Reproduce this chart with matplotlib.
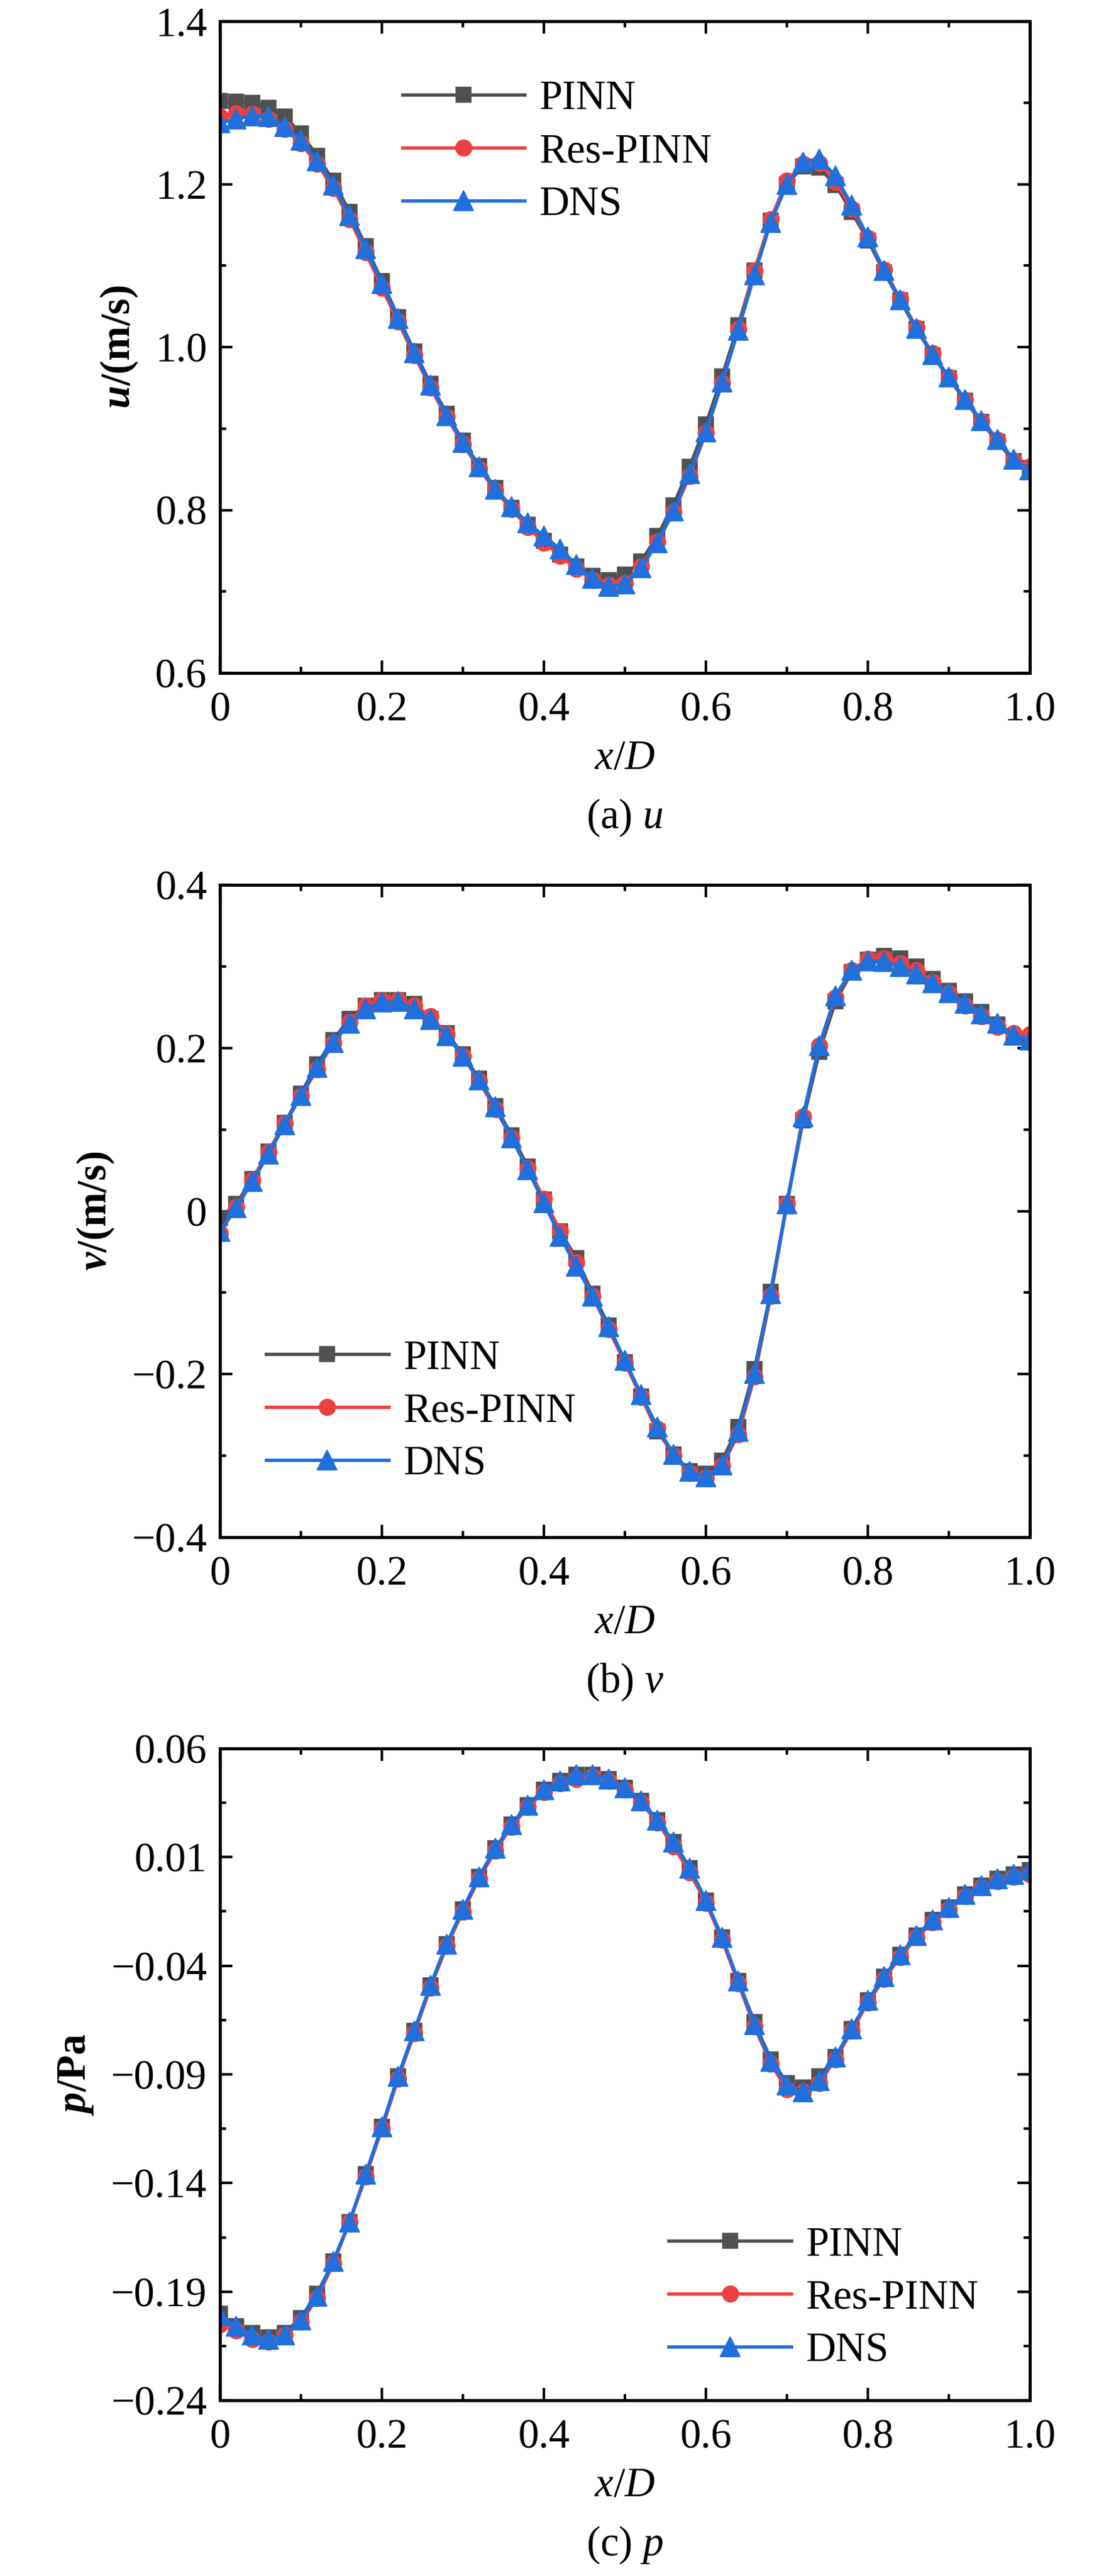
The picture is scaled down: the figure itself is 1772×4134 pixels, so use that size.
import matplotlib
matplotlib.use('Agg')
from matplotlib import pyplot as plt
from matplotlib.ticker import MultipleLocator, FixedLocator

plt.rcParams['font.family'] = ['Liberation Serif', 'DejaVu Serif']
plt.rcParams['mathtext.fontset'] = 'custom'
plt.rcParams['mathtext.rm'] = 'Liberation Serif'
plt.rcParams['mathtext.it'] = 'Liberation Serif:italic'
plt.rcParams['mathtext.bf'] = 'Liberation Serif:bold'
plt.rcParams['mathtext.bfit'] = 'Liberation Serif:italic:bold'
plt.rcParams['axes.unicode_minus'] = True

# x/D sample positions
x_d = [0.00, 0.02, 0.04, 0.06, 0.08, 0.10, 0.12, 0.14, 0.16, 0.18,
       0.20, 0.22, 0.24, 0.26, 0.28, 0.30, 0.32, 0.34, 0.36, 0.38,
       0.40, 0.42, 0.44, 0.46, 0.48, 0.50, 0.52, 0.54, 0.56, 0.58,
       0.60, 0.62, 0.64, 0.66, 0.68, 0.70, 0.72, 0.74, 0.76, 0.78,
       0.80, 0.82, 0.84, 0.86, 0.88, 0.90, 0.92, 0.94, 0.96, 0.98, 1.00]

# (a) u
u_pinn = [1.302, 1.301, 1.300, 1.294, 1.283, 1.262, 1.235, 1.204, 1.166, 1.124,
          1.081, 1.037, 0.995, 0.955, 0.918, 0.885, 0.854, 0.827, 0.803, 0.782,
          0.762, 0.745, 0.731, 0.719, 0.714, 0.721, 0.737, 0.768, 0.806, 0.853,
          0.905, 0.964, 1.027, 1.094, 1.155, 1.200, 1.222, 1.220, 1.199, 1.166,
          1.131, 1.092, 1.057, 1.022, 0.990, 0.962, 0.934, 0.908, 0.884, 0.860, 0.852]
u_res = [1.283, 1.287, 1.286, 1.280, 1.268, 1.250, 1.225, 1.195, 1.157, 1.116,
         1.073, 1.031, 0.990, 0.950, 0.914, 0.881, 0.851, 0.824, 0.801, 0.779,
         0.760, 0.744, 0.728, 0.714, 0.708, 0.710, 0.731, 0.761, 0.797, 0.842,
         0.895, 0.956, 1.022, 1.094, 1.157, 1.204, 1.225, 1.226, 1.203, 1.170,
         1.134, 1.095, 1.059, 1.024, 0.992, 0.963, 0.935, 0.909, 0.886, 0.861, 0.853]
u_dns = [1.275, 1.280, 1.284, 1.283, 1.271, 1.254, 1.229, 1.199, 1.161, 1.121,
         1.078, 1.035, 0.993, 0.953, 0.916, 0.883, 0.853, 0.826, 0.804, 0.784,
         0.768, 0.752, 0.733, 0.716, 0.706, 0.709, 0.729, 0.760, 0.799, 0.845,
         0.896, 0.957, 1.021, 1.089, 1.153, 1.200, 1.227, 1.231, 1.210, 1.174,
         1.135, 1.094, 1.058, 1.023, 0.991, 0.963, 0.936, 0.910, 0.887, 0.862, 0.849]

# (b) v
v_pinn = [-0.009, 0.009, 0.039, 0.073, 0.108, 0.144, 0.180, 0.210, 0.236, 0.252,
          0.259, 0.259, 0.254, 0.236, 0.218, 0.192, 0.162, 0.129, 0.093, 0.055,
          0.014, -0.025, -0.058, -0.101, -0.140, -0.185, -0.227, -0.270, -0.298, -0.319,
          -0.322, -0.306, -0.265, -0.194, -0.099, 0.009, 0.111, 0.195, 0.257, 0.293,
          0.308, 0.313, 0.310, 0.300, 0.285, 0.270, 0.257, 0.244, 0.229, 0.213, 0.210]
v_res = [-0.027, 0.005, 0.038, 0.072, 0.107, 0.141, 0.174, 0.206, 0.232, 0.252,
         0.259, 0.259, 0.252, 0.239, 0.217, 0.190, 0.159, 0.125, 0.090, 0.052,
         0.015, -0.025, -0.063, -0.104, -0.145, -0.186, -0.228, -0.267, -0.300, -0.321,
         -0.327, -0.312, -0.274, -0.203, -0.104, 0.009, 0.116, 0.203, 0.262, 0.295,
         0.309, 0.310, 0.304, 0.295, 0.281, 0.267, 0.252, 0.239, 0.226, 0.218, 0.217]
v_dns = [-0.025, 0.004, 0.036, 0.070, 0.106, 0.142, 0.176, 0.207, 0.230, 0.248,
         0.256, 0.257, 0.248, 0.235, 0.215, 0.190, 0.161, 0.128, 0.090, 0.051,
         0.010, -0.031, -0.068, -0.104, -0.142, -0.183, -0.225, -0.265, -0.298, -0.319,
         -0.326, -0.311, -0.270, -0.199, -0.101, 0.009, 0.116, 0.203, 0.264, 0.295,
         0.307, 0.306, 0.300, 0.291, 0.280, 0.268, 0.255, 0.242, 0.230, 0.216, 0.210]

# (c) p
p_pinn = [-0.200, -0.206, -0.209, -0.211, -0.209, -0.202, -0.191, -0.176, -0.158, -0.136,
          -0.114, -0.091, -0.070, -0.049, -0.030, -0.014, 0.001, 0.014, 0.025, 0.034,
          0.041, 0.045, 0.048, 0.048, 0.046, 0.042, 0.036, 0.027, 0.017, 0.005,
          -0.010, -0.027, -0.047, -0.066, -0.083, -0.094, -0.096, -0.091, -0.082, -0.069,
          -0.056, -0.045, -0.035, -0.026, -0.019, -0.013, -0.007, -0.003, 0.000, 0.002, 0.004]
p_res = [-0.205, -0.208, -0.212, -0.213, -0.210, -0.204, -0.193, -0.177, -0.158, -0.137,
         -0.115, -0.092, -0.071, -0.050, -0.031, -0.015, 0.000, 0.013, 0.024, 0.033,
         0.040, 0.044, 0.046, 0.047, 0.045, 0.041, 0.035, 0.026, 0.015, 0.003,
         -0.011, -0.028, -0.048, -0.068, -0.085, -0.097, -0.098, -0.094, -0.083, -0.070,
         -0.057, -0.046, -0.036, -0.027, -0.020, -0.014, -0.008, -0.004, -0.001, 0.001, 0.002]
p_dns = [-0.201, -0.206, -0.210, -0.212, -0.210, -0.203, -0.192, -0.176, -0.158, -0.136,
         -0.114, -0.091, -0.070, -0.049, -0.030, -0.014, 0.001, 0.014, 0.025, 0.034,
         0.041, 0.045, 0.048, 0.048, 0.046, 0.042, 0.036, 0.027, 0.017, 0.005,
         -0.010, -0.027, -0.047, -0.067, -0.084, -0.095, -0.098, -0.093, -0.082, -0.069,
         -0.056, -0.045, -0.035, -0.026, -0.019, -0.013, -0.007, -0.003, 0.000, 0.002, 0.004]

x_ticks = [0, 0.2, 0.4, 0.6, 0.8, 1.0]
x_tick_labels = ['0', '0.2', '0.4', '0.6', '0.8', '1.0']
u_ticks = [0.6, 0.8, 1.0, 1.2, 1.4]
u_tick_labels = ['0.6', '0.8', '1.0', '1.2', '1.4']
v_ticks = [-0.4, -0.2, 0, 0.2, 0.4]
v_tick_labels = ['\u22120.4', '\u22120.2', '0', '0.2', '0.4']
p_ticks = [-0.24, -0.19, -0.14, -0.09, -0.04, 0.01, 0.06]
p_tick_labels = ['\u22120.24', '\u22120.19', '\u22120.14', '\u22120.09', '\u22120.04', '0.01', '0.06']

series_names = ['PINN', 'Res-PINN', 'DNS']
colors = ['#505050', '#ef4040', '#1f6fdc']
markers = ['s', 'o', '^']
msizes = [5.6, 6.2, 7.6]

W, H = 1772, 4134
fig = plt.figure(figsize=(W / 300, H / 300), dpi=300)

panels = [
    dict(top=34, bottom=1080, ys=(u_pinn, u_res, u_dns), ylim=(0.6, 1.4),
         yt=u_ticks, ytl=u_tick_labels, minor=0.1,
         ylabel=r'$\mathbfit{u}$/(m/s)', cap=r'(a) $u$', leg=(0.225, 0.91)),
    dict(top=1420, bottom=2467, ys=(v_pinn, v_res, v_dns), ylim=(-0.4, 0.4),
         yt=v_ticks, ytl=v_tick_labels, minor=0.1,
         ylabel=r'$\mathbfit{v}$/(m/s)', cap=r'(b) $v$', leg=(0.057, 0.303)),
    dict(top=2806, bottom=3852, ys=(p_pinn, p_res, p_dns), ylim=(-0.24, 0.06),
         yt=p_ticks, ytl=p_tick_labels, minor=0.025,
         ylabel=r'$\mathbfit{p}$/Pa', cap=r'(c) $p$', leg=(0.554, 0.267)),
]

left, right = 353, 1653
for pn in panels:
    ax = fig.add_axes([left / W, 1 - pn['bottom'] / H,
                       (right - left) / W, (pn['bottom'] - pn['top']) / H])
    for ys, name, c, m, ms in zip(pn['ys'], series_names, colors, markers, msizes):
        ax.plot(x_d, ys, color=c, marker=m, markersize=ms, markeredgewidth=0.4,
                markeredgecolor=c, linewidth=1.3, label=name)
    ax.set_xlim(0, 1.0)
    ax.set_ylim(*pn['ylim'])
    ax.set_xticks(x_ticks, x_tick_labels)
    ax.set_yticks(pn['yt'], pn['ytl'])
    ax.xaxis.set_minor_locator(MultipleLocator(0.1))
    y0, y1 = pn['ylim']
    mticks = []
    t = y0 + pn['minor']
    while t < y1:
        mticks.append(t)
        t += 2 * pn['minor']
    ax.yaxis.set_minor_locator(FixedLocator(mticks))
    ax.tick_params(which='both', direction='in', top=True, right=True,
                   width=1.0, labelsize=16)
    ax.tick_params(which='major', length=4.8)
    ax.tick_params(which='minor', length=2.4)
    ax.tick_params(axis='x', pad=7)
    ax.tick_params(axis='y', pad=5)
    for s in ax.spines.values():
        s.set_linewidth(1.2)
    ax.set_xlabel(r'$x/D$', fontsize=16, labelpad=4)
    ax.set_ylabel(pn['ylabel'], fontsize=16, fontweight='bold', labelpad=6)
    ax.legend(loc='upper left', bbox_to_anchor=pn['leg'], frameon=False,
              fontsize=16, handlelength=2.95, handletextpad=0.35,
              labelspacing=0.36, borderpad=0, borderaxespad=0)
    cap_y = pn['bottom'] + 232
    fig.text(((left + right) / 2) / W, 1 - cap_y / H, pn['cap'], fontsize=16,
             ha='center', va='center')

fig.savefig('out.png', dpi=300)
